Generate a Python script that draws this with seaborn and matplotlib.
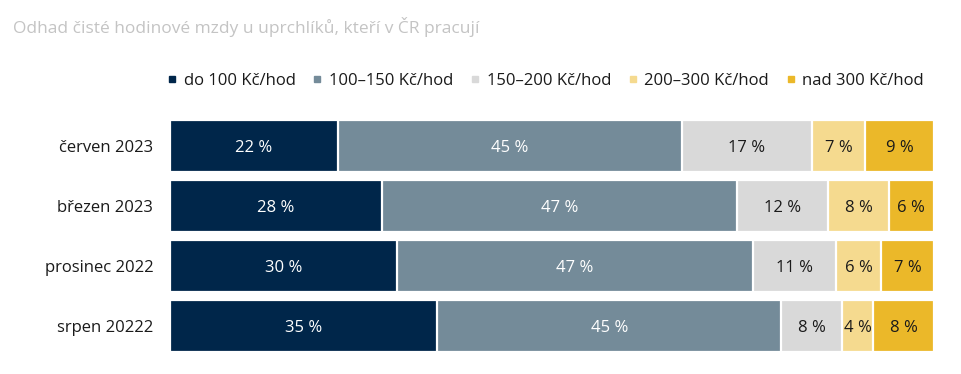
import numpy as np
import pandas as pd
import matplotlib
matplotlib.use("Agg")
import matplotlib.pyplot as plt
from matplotlib.lines import Line2D
import seaborn as sns

# ---- data ----
periods = ["červen 2023", "březen 2023", "prosinec 2022", "srpen 20222"]
categories = ["do 100 Kč/hod", "100–150 Kč/hod", "150–200 Kč/hod", "200–300 Kč/hod", "nad 300 Kč/hod"]
do_100 = [22, 28, 30, 35]
s100_150 = [45, 47, 47, 45]
s150_200 = [17, 12, 11, 8]
s200_300 = [7, 8, 6, 4]
nad_300 = [9, 6, 7, 8]
title = "Odhad čisté hodinové mzdy u uprchlíků, kteří v ČR pracují"

colors = ["#00264A", "#748B99", "#D9D9D9", "#F5DA8F", "#EBB829"]
text_colors = ["white", "white", "#1a1a1a", "#1a1a1a", "#1a1a1a"]

series = [do_100, s100_150, s150_200, s200_300, nad_300]
vals = np.array(series, dtype=float)          # shape (5, 4)
shares = vals / vals.sum(axis=0) * 100         # 100 % stacked
cum = np.cumsum(shares, axis=0)

sns.set_theme(style="white")
plt.rcParams["font.family"] = ["Open Sans", "DejaVu Sans"]

fig = plt.figure(figsize=(9.62, 3.74), dpi=100)
ax = fig.add_axes([0.1767, 0.048, 0.7943, 0.642])

# draw cumulative bars from the right-most category to the left-most
for i in range(len(categories) - 1, -1, -1):
    df = pd.DataFrame({"period": periods, "value": cum[i]})
    sns.barplot(data=df, x="value", y="period", orient="h", color=colors[i],
                saturation=1, width=0.88, edgecolor="white", linewidth=1.6, ax=ax)

# labels
for i in range(len(categories)):
    left = cum[i] - shares[i]
    for j in range(len(periods)):
        ax.text(left[j] + shares[i][j] / 2, j + 0.03, f"{series[i][j]:.0f} %",
                ha="center", va="center", fontsize=12, color=text_colors[i])

ax.set_xlim(0, 100)
ax.set_ylim(3.5, -0.5)
ax.set_xlabel("")
ax.set_ylabel("")
ax.set_xticks([])
for s in ax.spines.values():
    s.set_visible(False)
ax.tick_params(axis="y", length=0, pad=12, labelsize=12, labelcolor="#1a1a1a")

# legend
handles = [Line2D([0], [0], marker="s", linestyle="none", markersize=5,
                  markerfacecolor=c, markeredgecolor=c) for c in colors]
fig.legend(handles, categories, loc="center right", bbox_to_anchor=(0.976, 0.783),
           ncol=5, frameon=False, fontsize=12, handlelength=0.6, handletextpad=0.4,
           columnspacing=1.0, labelcolor="#1a1a1a")

fig.text(0.0135, 1 - 17 / 374, title, ha="left", va="top", fontsize=12.5, color="#C4C4C4")

fig.savefig("out.png", dpi=100)
